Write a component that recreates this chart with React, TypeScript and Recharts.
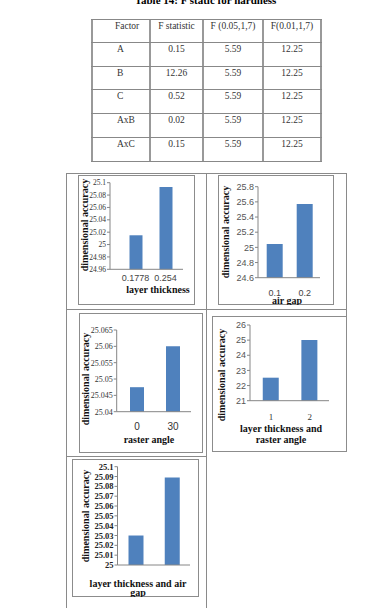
import React from "react";
import { BarChart, Bar, XAxis, YAxis, Label } from "recharts";

// table data
const tableTitle = "Table 14: F static for hardness";
const tableHeaders = ["Factor", "F statistic", "F (0.05,1,7)", "F(0.01,1,7)"];
const factors = ["A", "B", "C", "AxB", "AxC"];
const fStats = ["0.15", "12.26", "0.52", "0.02", "0.15"];
const fCrit005 = ["5.59", "5.59", "5.59", "5.59", "5.59"];
const fCrit001 = ["12.25", "12.25", "12.25", "12.25", "12.25"];

// chart data
const layerThickness = ["0.1778", "0.254"];
const layerThicknessAcc = [25.015, 25.093];
const layerThicknessTicks = [24.96, 24.98, 25, 25.02, 25.04, 25.06, 25.08, 25.1];

const airGap = ["0.1", "0.2"];
const airGapAcc = [25.044, 25.572];
const airGapTicks = [24.6, 24.8, 25, 25.2, 25.4, 25.6, 25.8];

const rasterAngle = ["0", "30"];
const rasterAngleAcc = [25.0475, 25.06];
const rasterAngleTicks = [25.04, 25.045, 25.05, 25.055, 25.06, 25.065];

const ltRaster = ["1", "2"];
const ltRasterAcc = [22.52, 25.01];
const ltRasterTicks = [21, 22, 23, 24, 25, 26];

const ltAir = ["1", "2"];
const ltAirAcc = [25.03, 25.089];
const ltAirTicks = [25, 25.01, 25.02, 25.03, 25.04, 25.05, 25.06, 25.07, 25.08, 25.09, 25.1];

const SERIF = "'Liberation Serif', 'Times New Roman', serif";
const SANS = "'Liberation Sans', Arial, sans-serif";

type ChartCfg = {
  frame: [number, number, number, number];
  plot: [number, number, number, number];
  cats: string[];
  vals: number[];
  ticks: number[];
  pad: [number, number];
  barSize: number;
  yTick: { fontFamily: string; fontSize: number; fill: string; fontWeight?: string };
  xTick: { fontFamily: string; fontSize: number; fill: string } | null;
  xTickMargin: number;
  yLabel: [number, number];
  xTitle: string[];
  xTitleX: number;
  xTitleY: number[];
};

const charts: ChartCfg[] = [
  {
    frame: [78, 175, 117, 130],
    plot: [110, 182.7, 183, 269.3],
    cats: layerThickness,
    vals: layerThicknessAcc,
    ticks: layerThicknessTicks,
    pad: [10.5, 2.5],
    barSize: 13,
    yTick: { fontFamily: SERIF, fontSize: 7.5, fill: "#333" },
    xTick: { fontFamily: SANS, fontSize: 9, fill: "#444" },
    xTickMargin: 5,
    yLabel: [84, 225],
    xTitle: ["layer thickness"],
    xTitleX: 158,
    xTitleY: [288.5],
  },
  {
    frame: [218, 175, 116, 130],
    plot: [258, 186.7, 320, 277.7],
    cats: airGap,
    vals: airGapAcc,
    ticks: airGapTicks,
    pad: [1.7, 0.3],
    barSize: 16,
    yTick: { fontFamily: SANS, fontSize: 9, fill: "#555" },
    xTick: { fontFamily: SANS, fontSize: 9, fill: "#444" },
    xTickMargin: 12,
    yLabel: [225, 232],
    xTitle: ["air gap"],
    xTitleX: 287,
    xTitleY: [299.5],
  },
  {
    frame: [79, 313, 124, 140],
    plot: [116.7, 330, 191, 411.7],
    cats: rasterAngle,
    vals: rasterAngleAcc,
    ticks: rasterAngleTicks,
    pad: [2.3, 0],
    barSize: 14,
    yTick: { fontFamily: SERIF, fontSize: 8, fill: "#333" },
    xTick: { fontFamily: SANS, fontSize: 10, fill: "#333" },
    xTickMargin: 11.3,
    yLabel: [85, 379],
    xTitle: ["raster angle"],
    xTitleX: 149,
    xTitleY: [438.5],
  },
  {
    frame: [212, 316, 135, 136],
    plot: [250, 325, 329, 400.7],
    cats: ltRaster,
    vals: ltRasterAcc,
    ticks: ltRasterTicks,
    pad: [1.75, 0],
    barSize: 16,
    yTick: { fontFamily: SANS, fontSize: 9, fill: "#555" },
    xTick: { fontFamily: SERIF, fontSize: 9, fill: "#333" },
    xTickMargin: 13,
    yLabel: [221.7, 375],
    xTitle: ["layer thickness and", "raster angle"],
    xTitleX: 281,
    xTitleY: [427.5, 438.5],
  },
  {
    frame: [72, 459, 127, 138],
    plot: [117.5, 466.7, 190, 565],
    cats: ltAir,
    vals: ltAirAcc,
    ticks: ltAirTicks,
    pad: [0, 0],
    barSize: 15,
    yTick: { fontFamily: SERIF, fontSize: 8.5, fill: "#222", fontWeight: "bold" },
    xTick: null,
    xTickMargin: 4,
    yLabel: [85, 516],
    xTitle: ["layer thickness and air", "gap"],
    xTitleX: 138,
    xTitleY: [582.5, 592],
  },
];

// outer grid of the figure table: [x1, y1, x2, y2]
const gridLines: [number, number, number, number][] = [
  [66, 173, 66, 608],
  [206, 173, 206, 608],
  [346, 173, 346, 452],
  [66, 173, 346, 173],
  [66, 309, 346, 309],
  [66, 456, 206, 456],
];

const colX = [92, 150, 203, 263, 321];
const rowY = [19, 42, 66, 89, 113, 137, 161];

function SmallBarChart({ cfg }: { cfg: ChartCfg }) {
  const [fx, fy, fw, fh] = cfg.frame;
  const [pl, pt, pr, pb] = cfg.plot;
  const data = cfg.cats.map((c, i) => ({ cat: c, v: cfg.vals[i] }));
  const [lx, ly] = [cfg.yLabel[0] - fx, cfg.yLabel[1] - fy];
  const tx = cfg.xTitleX - fx;

  return (
    <div style={{ position: "absolute", left: fx, top: fy, width: fw, height: fh }}>
      <div
        style={{
          position: "absolute",
          inset: 0,
          border: "1px solid #8c8c8c",
          boxSizing: "border-box",
        }}
      />
      <BarChart
        width={fw}
        height={fh}
        data={data}
        margin={{ top: pt - fy, right: fx + fw - pr, left: 0, bottom: 0 }}
        style={{ position: "absolute", left: 0, top: 0 }}
      >
        <XAxis
          dataKey="cat"
          height={fy + fh - pb}
          axisLine={{ stroke: "#868686" }}
          tickLine={false}
          tickSize={0}
          tickMargin={cfg.xTickMargin}
          tick={cfg.xTick ? cfg.xTick : false}
          interval={0}
          padding={{ left: cfg.pad[0], right: cfg.pad[1] }}
        >
          <Label
            content={() => (
              <text
                fontFamily={SERIF}
                fontWeight="bold"
                fontSize={10}
                fill="#111"
                textAnchor="middle"
                dominantBaseline="central"
              >
                {cfg.xTitle.map((line, i) => (
                  <tspan key={i} x={tx} y={cfg.xTitleY[i] - fy}>
                    {line}
                  </tspan>
                ))}
              </text>
            )}
          />
        </XAxis>
        <YAxis
          width={pl - fx}
          domain={[cfg.ticks[0], cfg.ticks[cfg.ticks.length - 1]]}
          ticks={cfg.ticks}
          interval={0}
          axisLine={{ stroke: "#868686" }}
          tickLine={{ stroke: "#868686" }}
          tickSize={3}
          tickMargin={1}
          tick={cfg.yTick}
        >
          <Label
            content={() => (
              <text
                x={lx}
                y={ly}
                transform={`rotate(-90 ${lx} ${ly})`}
                fontFamily={SERIF}
                fontWeight="bold"
                fontSize={10}
                fill="#111"
                textAnchor="middle"
                dominantBaseline="central"
              >
                dimensional accuracy
              </text>
            )}
          />
        </YAxis>
        <Bar dataKey="v" fill="#4F81BD" barSize={cfg.barSize} isAnimationActive={false} />
      </BarChart>
    </div>
  );
}

export default function App() {
  const cellText: React.CSSProperties = {
    position: "absolute",
    fontFamily: SERIF,
    fontSize: 9.5,
    color: "#333",
    lineHeight: "10px",
    whiteSpace: "nowrap",
  };
  const rows = [tableHeaders, ...factors.map((f, i) => [f, fStats[i], fCrit005[i], fCrit001[i]])];

  return (
    <div
      style={{
        position: "absolute",
        left: 0,
        top: 0,
        width: 391,
        height: 608,
        background: "#fff",
        overflow: "hidden",
      }}
    >
      <div
        style={{
          position: "absolute",
          left: 0,
          width: 411,
          top: -6,
          textAlign: "center",
          fontFamily: SERIF,
          fontWeight: "bold",
          fontSize: 11,
          lineHeight: "12px",
        }}
      >
        {tableTitle}
      </div>

      {/* table lines */}
      {colX.map((x, i) => (
        <div
          key={"c" + i}
          style={{
            position: "absolute",
            left: x - 1,
            top: rowY[0],
            width: 2,
            height: rowY[rowY.length - 1] - rowY[0],
            background: "#999",
          }}
        />
      ))}
      {rowY.map((y, i) => (
        <div
          key={"r" + i}
          style={{
            position: "absolute",
            left: colX[0] - 1,
            top: y,
            width: colX[colX.length - 1] - colX[0] + 2,
            height: 1,
            background: "#888",
          }}
        />
      ))}
      {rows.map((row, r) =>
        row.map((txt, c) => {
          const y = rowY[r] + 2;
          if (c === 0) {
            return (
              <div key={r + "-" + c} style={{ ...cellText, left: r === 0 ? 115 : 117, top: y }}>
                {txt}
              </div>
            );
          }
          return (
            <div
              key={r + "-" + c}
              style={{
                ...cellText,
                left: colX[c],
                width: colX[c + 1] - colX[c],
                textAlign: "center",
                top: y,
              }}
            >
              {txt}
            </div>
          );
        })
      )}

      {/* figure grid */}
      {gridLines.map(([x1, y1, x2, y2], i) => (
        <div
          key={"g" + i}
          style={{
            position: "absolute",
            left: x1,
            top: y1,
            width: Math.max(1, x2 - x1),
            height: Math.max(1, y2 - y1),
            background: "#8a8a8a",
          }}
        />
      ))}

      {charts.map((cfg, i) => (
        <SmallBarChart key={i} cfg={cfg} />
      ))}
    </div>
  );
}
